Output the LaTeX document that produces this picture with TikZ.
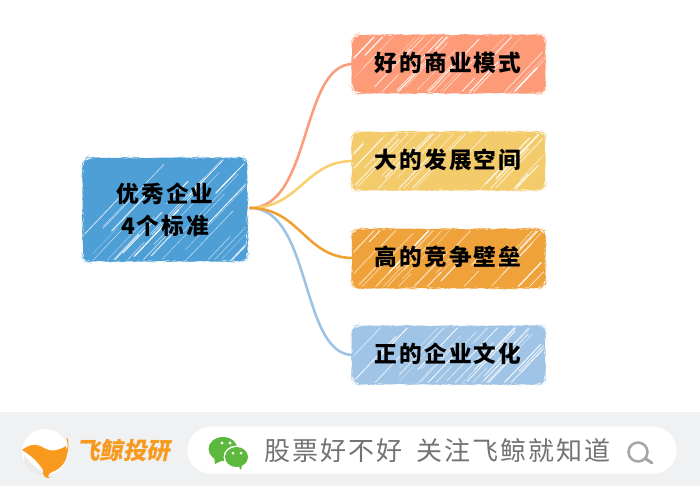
\documentclass[tikz,border=0pt]{standalone}
\usepackage{fontspec}
\usetikzlibrary{decorations.pathmorphing}
\newfontfamily\cjkbold[LetterSpace=9]{Noto Sans CJK SC Black}
\newfontfamily\cjkreg[LetterSpace=8]{Noto Sans CJK SC}
\newfontfamily\cjklogo{Noto Sans CJK SC Black}
\definecolor{cRoot}{HTML}{4F9FD7}
\definecolor{cA}{HTML}{FD9A77}
\definecolor{cB}{HTML}{F3CB6B}
\definecolor{cC}{HTML}{F0A23A}
\definecolor{cD}{HTML}{9FC4E6}
\definecolor{lineA}{HTML}{FB9C7C}
\definecolor{lineB}{HTML}{F8D06F}
\definecolor{lineC}{HTML}{F0A030}
\definecolor{lineD}{HTML}{9CC3E4}
\definecolor{barbg}{HTML}{F0F1F3}
\definecolor{wgreen}{HTML}{5DB83E}
\definecolor{logoO}{HTML}{F79A1E}
\tikzset{
  x=0.75pt,y=-0.75pt,
  sketchbox/.style={inner sep=0pt,outer sep=0pt,rounded corners=6pt,
    decorate,decoration={random steps,segment length=2.5pt,amplitude=0.4pt}},
  link/.style={line width=1.9pt,line cap=round},
  boxtext/.style={font=\cjkbold\fontsize{17pt}{25pt}\selectfont,text=black,align=center,inner sep=0pt},
  bartext/.style={font=\cjkreg\fontsize{19.5pt}{24pt}\selectfont,text=black!55,inner sep=0pt,anchor=west},
}
% #1 name, #2 x0, #3 y0, #4 x1, #5 y1, #6 colour
\newcommand{\hatchbox}[6]{%
  \path[fill=#6,sketchbox] (#2,#3) rectangle (#4,#5);
  \begin{scope}
    \clip[rounded corners=6pt] (#2+1.5,#3+1.5) rectangle (#4-1.5,#5-1.5);
    \foreach \k in {1,...,34}{
      \pgfmathsetmacro{\px}{#2+rnd*(#4-#2)}
      \pgfmathsetmacro{\py}{#3+rnd*(#5-#3)}
      \pgfmathsetmacro{\len}{8+rnd*24}
      \pgfmathsetmacro{\wd}{0.25+rnd*0.7}
      \pgfmathsetmacro{\op}{0.35+rnd*0.6}
      \draw[white,opacity=\op,line width=\wd pt,line cap=round]
        (\px-\len,\py+\len*1.05) -- (\px+\len,\py-\len*1.05);
    }
  \end{scope}
}
\pgfmathsetseed{4217}
\begin{document}
\begin{tikzpicture}
\useasboundingbox (0,0) rectangle (700,486);
\fill[white] (0,0) rectangle (700,486);
% anchors for connectors
\coordinate (hub) at (250,208);
\coordinate (la) at (353,64);
\coordinate (lb) at (353,161);
\coordinate (lc) at (353,258);
\coordinate (ld) at (353,355);
% connectors
\draw[link,lineD] (hub) .. controls (312,208) and (300,355) .. (ld);
\draw[link,lineA] (hub) .. controls (312,208) and (300,64) .. (la);
\draw[link,lineB] (hub) .. controls (300,208) and (305,161) .. (lb);
\draw[link,lineC] (hub) .. controls (300,208) and (305,258) .. (lc);
% boxes
\hatchbox{root}{83}{158}{247}{261}{cRoot}
\hatchbox{a}{352}{35}{545}{93}{cA}
\hatchbox{b}{352}{132}{545}{190}{cB}
\hatchbox{c}{352}{229}{545}{288}{cC}
\hatchbox{d}{352}{326}{545}{384}{cD}
% labels
\node[boxtext,font=\cjkbold\fontsize{17pt}{24pt}\selectfont] (rootT) at (165,210) {优秀企业\\4个标准};
\node[boxtext] (aT) at (448,63) {好的商业模式};
\node[boxtext] (bT) at (448,160) {大的发展空间};
\node[boxtext] (cT) at (448,257) {高的竞争壁垒};
\node[boxtext] (dT) at (448,354) {正的企业文化};
% footer bar
\fill[barbg] (0,412) rectangle (700,486);
\fill[white,draw=black!5,line width=0.5pt,rounded corners=18pt] (187,426) rectangle (677,474);
% logo
\fill[white] (45,452) circle[radius=23];
\fill[black!8] (24,462) .. controls (30,474) and (40,476) .. (48,475) .. controls (38,470) and (32,465) .. (24,455) -- cycle;
\fill[logoO] (22,450) .. controls (30,444) and (36,443) .. (44,448)
  .. controls (50,452) and (58,451) .. (66,446)
  .. controls (70,456) and (64,468) .. (52,472)
  .. controls (48,474) and (46,478) .. (51,477)
  .. controls (46,480) and (42,476) .. (43,470)
  .. controls (38,462) and (32,456) .. (22,450) -- cycle;
\draw[logoO,line width=0.7pt] (67,438) .. controls (69,444) and (68,450) .. (66,456);
\node[inner sep=0pt,text=logoO,xslant=0.2,font=\cjklogo\fontsize{17.6pt}{20pt}\selectfont] (logoT) at (125,451) {飞鲸投研};
% WeChat icon
\fill[wgreen] (223,449) ellipse[x radius=14.5,y radius=12];
\fill[wgreen] (214,456) -- (215,464) -- (223,460) -- cycle;
\fill[white] (222,443) circle[radius=1.6];
\fill[white] (230,443) circle[radius=1.6];
\fill[white] (236.5,457) ellipse[x radius=13,y radius=11.5];
\fill[wgreen] (236.5,457) ellipse[x radius=11.5,y radius=10];
\fill[wgreen] (238,465) -- (242,465) -- (241,470) -- cycle;
\fill[white] (233,453) circle[radius=1.5];
\fill[white] (241,453) circle[radius=1.5];
% bar text
\node[bartext] (slogan1) at (264,451) {股票好不好};
\node[bartext] (slogan2) at (416,451) {关注飞鲸就知道};
% search icon
\draw[black!35,line width=1.9pt] (638,452) circle[radius=9.5];
\draw[black!35,line width=2.2pt,line cap=round] (646,459) -- (652,463);
\end{tikzpicture}
\end{document}
